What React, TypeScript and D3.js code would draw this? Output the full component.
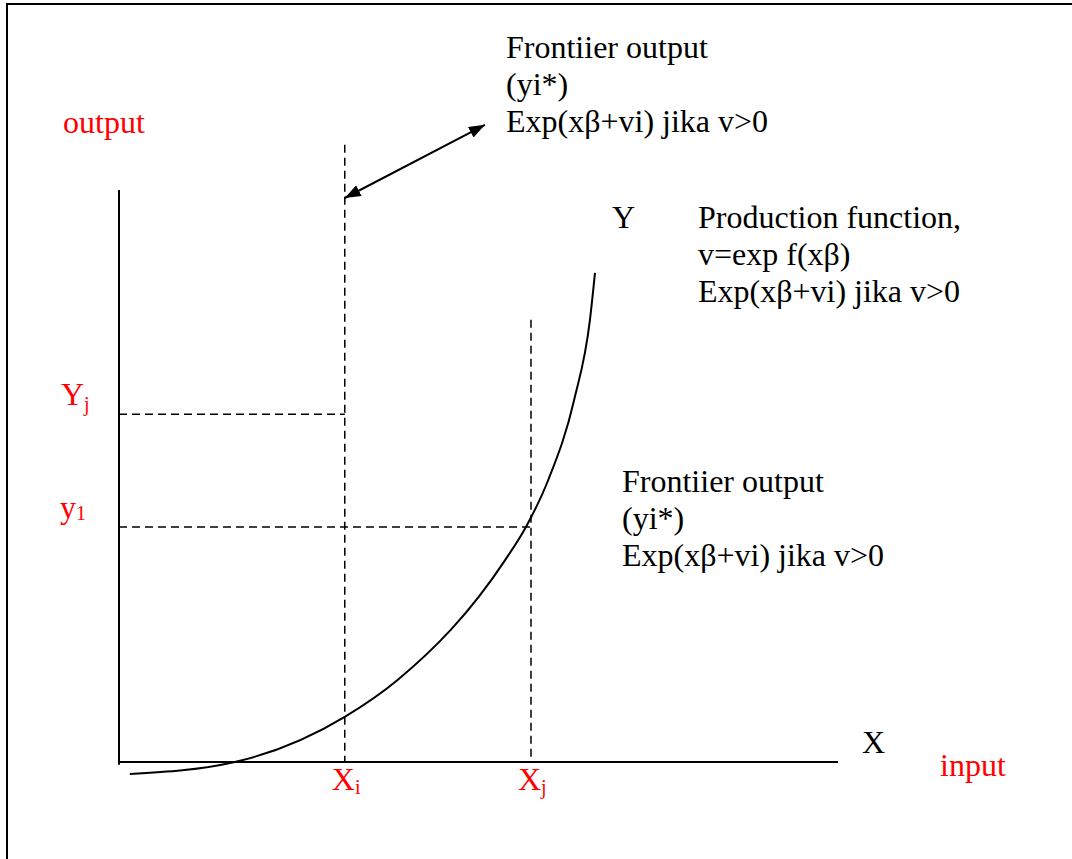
import React from "react";
import * as d3 from "d3";

// Data (in abstract chart units: x 0..100 along input axis, y 0..100 along output axis)
const curveX = [1.5, 16.1, 31.4, 38.7, 53.7, 56.6, 59.7, 63.3, 65.5, 66.2];
const curveY = [-2.1, 0, 7.9, 14.3, 35.3, 41.1, 49.3, 63.3, 77.3, 85.5];
const xMarks = [31.4, 57.3]; // Xi, Xj
const xMarkLabels = ["i", "j"];
const xMarkTops = [107.9, 77.3];
const yMarks = [60.8, 41.1]; // Yj, y1
const yMarkEnds = [31.4, 57.3];
const arrowFrom = [31.4, 98.6];
const arrowTo = [50.9, 111.4];

const W = 1072;
const H = 859;
const FONT = "'Liberation Serif', 'Times New Roman', serif";
const FS = 32;
const SUB = 20;
const RED = "#ff0000";

export default function App() {
  const x = d3.scaleLinear().domain([0, 100]).range([119, 838]);
  const y = d3.scaleLinear().domain([0, 100]).range([762, 190]);

  const pts: [number, number][] = curveX.map((v, i) => [v, curveY[i]]);
  const line = d3
    .line<[number, number]>()
    .x((d) => x(d[0]))
    .y((d) => y(d[1]))
    .curve(d3.curveMonotoneX);

  const dash = "8,5";

  return (
    <svg
      width={W}
      height={H}
      style={{ position: "absolute", left: 0, top: 0, background: "#fff" }}
      fontFamily={FONT}
    >
      <defs>
        <marker id="ah" viewBox="0 0 16 12" refX="16" refY="6" markerWidth="16" markerHeight="12" markerUnits="userSpaceOnUse" orient="auto-start-reverse">
          <path d="M0,0 L16,6 L0,12 z" fill="#000" />
        </marker>
      </defs>
      {/* frame */}
      <line x1={6} y1={4} x2={W} y2={4} stroke="#000" strokeWidth={2} />
      <line x1={7} y1={4} x2={7} y2={H} stroke="#000" strokeWidth={2} />

      {/* axes */}
      <line x1={x(0)} y1={y(100)} x2={x(0)} y2={y(-0.5)} stroke="#000" strokeWidth={2} />
      <line x1={x(0)} y1={y(0)} x2={x(100)} y2={y(0)} stroke="#000" strokeWidth={2} />

      {/* dashed guides */}
      {xMarks.map((m, i) => (
        <line key={"vx" + i} x1={x(m)} x2={x(m)} y1={y(xMarkTops[i])} y2={y(0)} stroke="#000" strokeWidth={1.5} strokeDasharray={dash} />
      ))}
      {yMarks.map((m, i) => (
        <line key={"hy" + i} x1={x(0)} x2={x(yMarkEnds[i])} y1={y(m)} y2={y(m)} stroke="#000" strokeWidth={1.5} strokeDasharray={dash} />
      ))}

      {/* production curve */}
      <path d={line(pts) || ""} fill="none" stroke="#000" strokeWidth={2} />

      {/* arrow */}
      <line
        x1={x(arrowFrom[0])}
        y1={y(arrowFrom[1])}
        x2={x(arrowTo[0])}
        y2={y(arrowTo[1])}
        stroke="#000"
        strokeWidth={2}
        markerStart="url(#ah)"
        markerEnd="url(#ah)"
      />

      {/* texts */}
      <g fontSize={FS} fill="#000">
        <text x={506} y={58}>Frontiier output</text>
        <text x={506} y={95}>(yi*)</text>
        <text x={506} y={132}>Exp(xβ+vi) jika v&gt;0</text>

        <text x={612} y={228}>Y</text>
        <text x={698} y={228}>Production function,</text>
        <text x={698} y={265}>v=exp f(xβ)</text>
        <text x={698} y={302}>Exp(xβ+vi) jika v&gt;0</text>

        <text x={622} y={492}>Frontiier output</text>
        <text x={622} y={529}>(yi*)</text>
        <text x={622} y={566}>Exp(xβ+vi) jika v&gt;0</text>

        <text x={862} y={753}>X</text>
      </g>
      <g fontSize={FS} fill={RED}>
        <text x={63} y={133}>output</text>
        <text x={940} y={776}>input</text>
        <text x={61} y={405}>
          Y<tspan fontSize={SUB} dy={6}>j</tspan>
        </text>
        <text x={60} y={518}>
          y<tspan fontSize={SUB} dy={2}>1</tspan>
        </text>
        {xMarks.map((m, i) => (
          <text key={"xl" + i} x={x(m) - 13} y={790}>
            X<tspan fontSize={SUB} dy={4}>{xMarkLabels[i]}</tspan>
          </text>
        ))}
      </g>
    </svg>
  );
}
